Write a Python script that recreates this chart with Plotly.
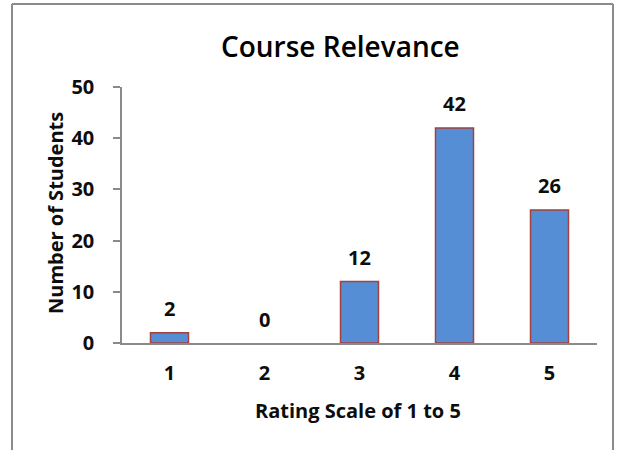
import plotly.graph_objects as go

categories = ["1", "2", "3", "4", "5"]
students = [2, 0, 12, 42, 26]
y_ticks = [0, 10, 20, 30, 40, 50]

title_text = "Course Relevance"
x_title = "Rating Scale of 1 to 5"
y_title = "Number of Students"

W, H = 622, 450
L, R, T, B = 122, 25, 87, 107
pw, ph = W - L - R, H - T - B

def px(x):
    return (x - L) / pw

def py(y):
    return (H - B - y) / ph

FONT = "Open Sans"
TXT = "#0d0d0d"

fig = go.Figure()
fig.add_trace(go.Bar(
    x=categories, y=students, width=0.4,
    marker=dict(color="#558ED5",
                line=dict(color="#A4403E", width=[1.5 if v > 0 else 0 for v in students])),
    hoverinfo="skip",
))

for i, v in enumerate(students):
    fig.add_annotation(x=i, y=v, text=str(v), showarrow=False,
                       yanchor="middle", yshift=24,
                       font=dict(family=FONT, size=20, color=TXT, weight="bold"))

fig.add_annotation(xref="paper", yref="paper", x=px(340.5), y=py(46), text=title_text,
                   showarrow=False, xanchor="center", yanchor="middle",
                   font=dict(family=FONT, size=28, color="#000000", weight=600))
fig.add_annotation(xref="paper", yref="paper", x=px(358), y=py(410), text=x_title,
                   showarrow=False, xanchor="center", yanchor="middle",
                   font=dict(family=FONT, size=20, color=TXT, weight="bold"))
fig.add_annotation(xref="paper", yref="paper", x=px(55), y=py(213), text=y_title,
                   showarrow=False, xanchor="center", yanchor="middle", textangle=-90,
                   font=dict(family=FONT, size=20, color=TXT, weight="bold"))

# outer chart border (left, top, right)
border = dict(color="#8a8a8a", width=2)
fig.add_shape(type="line", xref="paper", yref="paper", x0=px(12), x1=px(12), y0=py(4), y1=py(460), line=border)
fig.add_shape(type="line", xref="paper", yref="paper", x0=px(12), x1=px(613), y0=py(4), y1=py(4), line=border)
fig.add_shape(type="line", xref="paper", yref="paper", x0=px(613), x1=px(613), y0=py(4), y1=py(460), line=border)

fig.update_layout(
    width=W, height=H,
    margin=dict(l=L, r=R, t=T, b=B),
    paper_bgcolor="white", plot_bgcolor="white",
    showlegend=False,
    xaxis=dict(type="category", showgrid=False, showline=True, linecolor="#8a8a8a", linewidth=1.5,
               ticks="", ticklabelstandoff=11,
               tickfont=dict(family=FONT, size=20, color=TXT, weight="bold")),
    yaxis=dict(range=[0, 50], tickvals=y_ticks, showgrid=False, zeroline=False,
               showline=True, linecolor="#8a8a8a", linewidth=1.5,
               ticks="outside", ticklen=7, tickcolor="#8a8a8a", tickwidth=1.5,
               ticklabelstandoff=15,
               tickfont=dict(family=FONT, size=20, color=TXT, weight="bold")),
)

fig.write_html("out.html", config={"displayModeBar": False},
               post_script="document.body.style.margin='0';")
